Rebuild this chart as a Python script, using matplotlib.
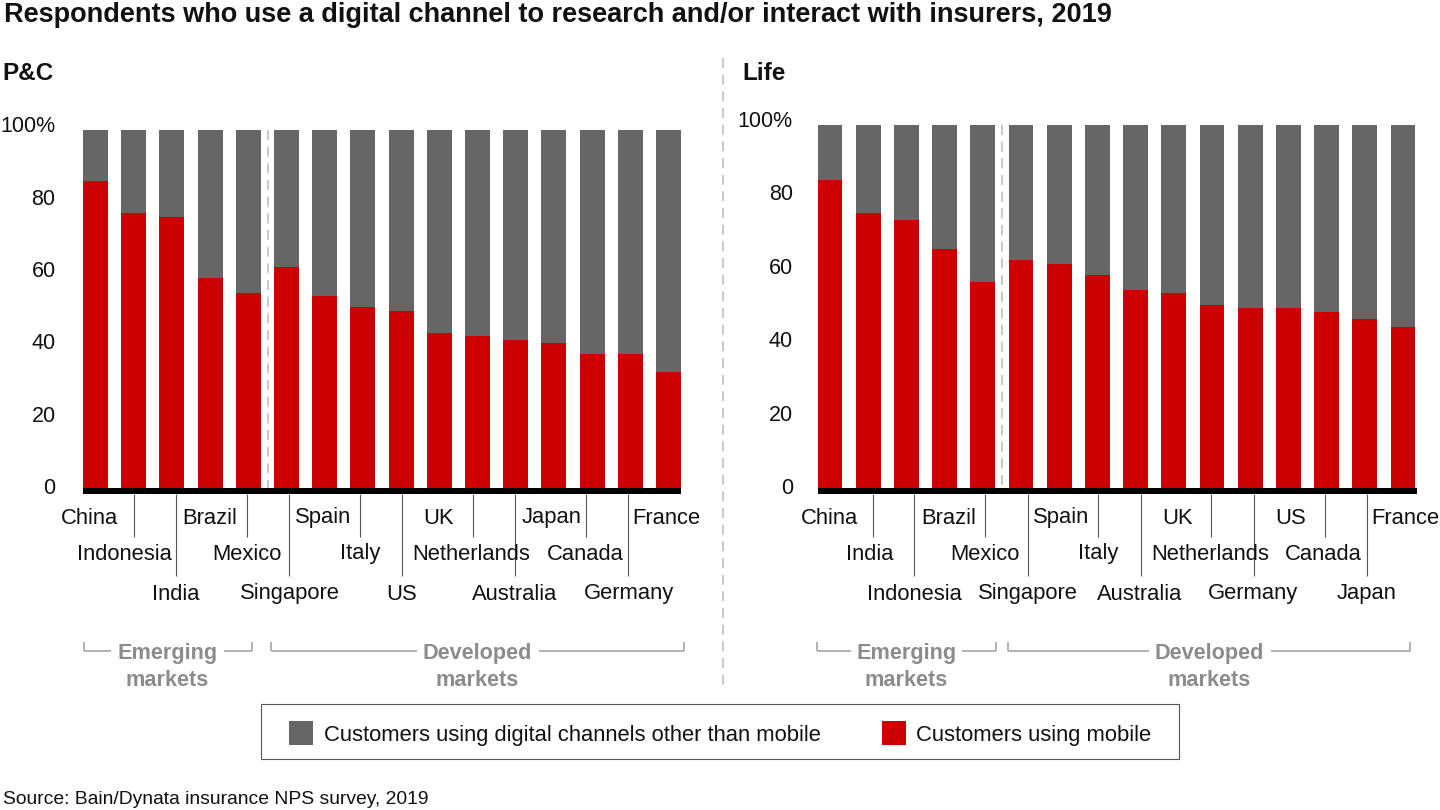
import matplotlib
matplotlib.use("Agg")
import matplotlib.pyplot as plt
from matplotlib.patches import Rectangle
from matplotlib.transforms import ScaledTranslation

plt.rcParams['font.family'] = ['Liberation Sans', 'DejaVu Sans']

# Data
countries_pc = ["China", "Indonesia", "India", "Brazil", "Mexico", "Singapore", "Spain", "Italy",
                "US", "UK", "Netherlands", "Australia", "Japan", "Canada", "Germany", "France"]
mobile_pc = [85, 76, 75, 58, 54, 61, 53, 50, 49, 43, 42, 41, 40, 37, 37, 32]
other_pc = [14, 23, 24, 41, 45, 38, 46, 49, 50, 56, 57, 58, 59, 62, 62, 67]

countries_life = ["China", "India", "Indonesia", "Brazil", "Mexico", "Singapore", "Spain", "Italy",
                  "Australia", "UK", "Netherlands", "Germany", "US", "Canada", "Japan", "France"]
mobile_life = [84, 75, 73, 65, 56, 62, 61, 58, 54, 53, 50, 49, 49, 48, 46, 44]
other_life = [15, 24, 26, 34, 43, 37, 38, 41, 45, 46, 49, 50, 50, 51, 53, 55]

y_ticks = [0, 20, 40, 60, 80, 100]
y_labels = ["0", "20", "40", "60", "80", "100%"]

# Label placement in pixels
label_x_pc = [90, 124.5, 175.5, 210, 246.5, 289.5, 323, 360, 402, 439, 471.5, 514.5, 552, 585, 629, 666]
label_x_life = [829, 870, 914, 949, 985, 1028, 1061, 1098, 1140, 1178, 1210, 1253, 1291, 1323, 1367, 1405]
leader_x_pc = [134, 175.5, 247, 289, 360, 402, 473, 515, 586, 628]
leader_x_life = [872.5, 914, 985, 1027.5, 1098, 1140.5, 1211, 1253.5, 1325, 1366.5]
leader_end = [537, 576] * 5
level_y = [518, 554, 594]

RED = "#cc0000"
GRAY = "#666666"
INK = "#111111"
W, H = 1440, 810
FS = 15.8


def add_panel(fig, mobile, other, left_px, top_px, bottom_px, pad):
    # xlim -0.5..15.5 spans 16 slots of 38.2 px
    ax = fig.add_axes([left_px / W, 1 - bottom_px / H, 38.2 * 16 / W, (bottom_px - top_px) / H])
    xs = range(len(mobile))
    ax.bar(xs, mobile, width=0.654, color=RED, edgecolor="none")
    ax.bar(xs, other, bottom=mobile, width=0.654, color=GRAY, edgecolor="none")
    ax.set_xlim(-0.5, 15.5)
    ax.set_ylim(0, 100)
    ax.set_xticks([])
    ax.set_yticks(y_ticks)
    ax.set_yticklabels(y_labels, fontsize=15.5, color=INK)
    ax.tick_params(axis="y", length=0, pad=pad)
    # nudge tick labels up 2 px
    shift = ScaledTranslation(0, 2 / 100, fig.dpi_scale_trans)
    for lab in ax.get_yticklabels():
        lab.set_transform(lab.get_transform() + shift)
    for s in ax.spines.values():
        s.set_visible(False)
    ax.patch.set_alpha(0)
    return ax


fig = plt.figure(figsize=(14.4, 8.1), dpi=100)

# Overlay in pixel coordinates for annotation
ov = fig.add_axes([0, 0, 1, 1])
ov.set_xlim(0, W)
ov.set_ylim(H, 0)
ov.axis("off")

add_panel(fig, mobile_pc, other_pc, 76.4, 126.5, 488, 15)
add_panel(fig, mobile_life, other_life, 810.9, 121, 488, 13)


def hline(x0, x1, y, color="#a6a6a6", lw=1.2):
    ov.plot([x0, x1], [y, y], color=color, lw=lw, solid_capstyle="butt")


def vline(x, y0, y1, color="#555555", lw=0.8, **kw):
    ov.plot([x, x], [y0, y1], color=color, lw=lw, solid_capstyle="butt", **kw)


def axis_labels(names, label_x, leader_x, x0, x1):
    ov.add_patch(Rectangle((x0, 488), x1 - x0, 6, color="black", lw=0, zorder=3))
    for i, (name, x) in enumerate(zip(names, label_x)):
        ov.text(x, level_y[i % 3], name, ha="center", va="center", fontsize=FS, color=INK)
    for x, end in zip(leader_x, leader_end):
        vline(x, 494, end)


def bracket(x0, x1, gap0, gap1, word):
    hline(x0, gap0, 651)
    hline(gap1, x1, 651)
    vline(x0, 642, 651, color="#a6a6a6", lw=1.2)
    vline(x1, 642, 651, color="#a6a6a6", lw=1.2)
    cx = (gap0 + gap1) / 2
    ov.text(cx, 654, word, ha="center", va="center", fontsize=15.6, fontweight="bold", color="#8c8c8c")
    ov.text(cx, 680, "markets", ha="center", va="center", fontsize=15.6, fontweight="bold", color="#8c8c8c")


axis_labels(countries_pc, label_x_pc, leader_x_pc, 83, 681)
axis_labels(countries_life, label_x_life, leader_x_life, 818, 1417)

bracket(83.5, 252, 111, 224, "Emerging")
bracket(271, 684, 416.5, 538.5, "Developed")
bracket(817, 996, 851, 962, "Emerging")
bracket(1008, 1410, 1148.5, 1270.5, "Developed")

# Dashed dividers
dash = (0, (6, 4))
vline(268, 130, 488, color="#bfbfbf", lw=1.2, linestyle=dash)
vline(1002, 125, 488, color="#bfbfbf", lw=1.2, linestyle=dash)
vline(723, 58, 685, color="#bfbfbf", lw=1.2, linestyle=dash)

# Titles
ov.text(4, 15, "Respondents who use a digital channel to research and/or interact with insurers, 2019",
        ha="left", va="center", fontsize=19.55, fontweight="bold", color=INK)
ov.text(2, 73, "P&C", ha="left", va="center", fontsize=17.5, fontweight="bold", color=INK)
ov.text(742, 73, "Life", ha="left", va="center", fontsize=17.5, fontweight="bold", color=INK)

# Legend
ov.add_patch(Rectangle((261, 704), 918, 55, facecolor="white", edgecolor="#555555", lw=0.8))
ov.add_patch(Rectangle((289, 721), 24, 24, color=GRAY, lw=0))
ov.text(324, 735, "Customers using digital channels other than mobile", ha="left", va="center",
        fontsize=FS, color=INK)
ov.add_patch(Rectangle((882, 721), 24, 24, color=RED, lw=0))
ov.text(916, 735, "Customers using mobile", ha="left", va="center", fontsize=FS, color=INK)

# Source
ov.text(3, 799, "Source: Bain/Dynata insurance NPS survey, 2019", ha="left", va="center",
        fontsize=13.9, color=INK)

fig.savefig("out.png", dpi=100)
